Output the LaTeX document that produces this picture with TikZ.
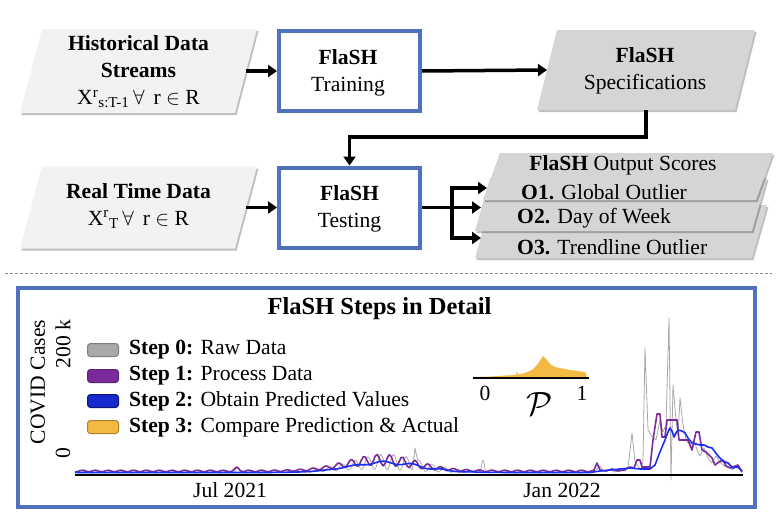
\documentclass[tikz,border=0pt]{standalone}
\usepackage{fontspec}
\usepackage{graphicx}
\setmainfont{Liberation Serif}
\usetikzlibrary{shadows,arrows.meta,calc}
\definecolor{bbox}{HTML}{4F71BE}
\definecolor{ingray}{HTML}{F2F2F2}
\definecolor{spgray}{HTML}{D5D5D5}
\definecolor{rawgray}{HTML}{A8A8A8}
\definecolor{purp}{HTML}{7B2A9C}
\definecolor{bluel}{HTML}{1A30F0}
\definecolor{gold}{HTML}{F4B942}
\newcommand{\paral}[3]{%
  \fill[#3, shad] ($(#1.south west)+(-#2/2,0)$) -- ($(#1.south east)+(-#2/2,0)$)
    -- ($(#1.north east)+(#2/2,0)$) -- ($(#1.north west)+(#2/2,0)$) -- cycle;}
\begin{document}
\begin{tikzpicture}[x=1pt,y=-1pt,
  declare function={g(\u,\c,\w)=exp(-min(abs((\u-\c)/\w),4)*min(abs((\u-\c)/\w),4));
                    wk(\u)=sin(28.125*mod(\u,12.8));},
  fnt/.style={font=\fontsize{21.6}{27}\selectfont},
  txt/.style={fnt, align=center, inner sep=0pt},
  shad/.style={drop shadow={shadow xshift=1.5pt, shadow yshift=-2pt, opacity=0.25, fill=black}},
  pbody/.style={rectangle, draw=none, inner sep=0pt, outer sep=0pt},
  procbox/.style={rectangle, draw=bbox, line width=4pt, fill=white, minimum width=141pt, minimum height=80pt, inner sep=0pt, shad},
  arr/.style={line width=3.5pt, -{Triangle[length=9pt,width=12pt]}},
  swatch/.style={rectangle, rounded corners=3pt, minimum width=31pt, minimum height=13pt, inner sep=0pt, line width=1pt},
  lgtext/.style={fnt, anchor=west, inner sep=0pt},
  lab/.style={fnt, inner sep=0pt}
]
\useasboundingbox (0,0) rectangle (778,514);

% ---------- top flow ----------
\node[pbody, minimum width=215pt, minimum height=84pt] (hist) at (138.5,71) {};
\paral{hist}{22}{ingray}
\node[txt] (histt) at (138.5,72) {\textbf{Historical Data}\\\textbf{Streams}\\X\textsuperscript{r}\textsubscript{s:T-1}\,$\forall$\, r $\in$ R};

\node[procbox] (train) at (349.5,71) {};
\node[txt] (traint) at (348,73) {\textbf{FlaSH}\\Training};

\node[pbody, minimum width=198pt, minimum height=80pt] (spec) at (646,70) {};
\paral{spec}{20}{spgray}
\node[txt] (spect) at (645,71) {\textbf{FlaSH}\\Specifications};

\node[pbody, minimum width=215pt, minimum height=82pt] (real) at (138.5,207.5) {};
\paral{real}{22}{ingray}
\node[txt] (realt) at (138.5,206) {\textbf{Real Time Data}\\X\textsuperscript{r}\textsubscript{T}\,$\forall$\, r $\in$ R};

\node[procbox] (test) at (349.5,207.5) {};
\node[txt] (testt) at (349.5,209) {\textbf{FlaSH}\\Testing};

% output score stack
\node[pbody, minimum width=277pt, minimum height=53pt] (out3) at (621,231.5) {};
\paral{out3}{15}{spgray}
\node[pbody, minimum width=277pt, minimum height=53pt] (out2) at (621,204.5) {};
\paral{out2}{15}{spgray}
\node[pbody, minimum width=273pt, minimum height=47pt] (out1) at (628,176.5) {};
\paral{out1}{17}{spgray}
\node[txt] (outt) at (623,165) {\textbf{FlaSH} Output Scores};
\node[txt, anchor=west] (o1t) at (521,192.5) {\textbf{O1.} Global Outlier};
\node[txt, anchor=west] (o2t) at (517,218) {\textbf{O2.} Day of Week};
\node[txt, anchor=west] (o3t) at (517,247) {\textbf{O3.} Trendline Outlier};

% connectors
\draw[arr] (hist.east) -- (train.west);
\draw[arr] (train.east) -- (spec.west);
\draw[arr] (real.east) -- (test.west);
\draw[arr] (spec.south) -- ++(0,27) -| (test.north);
\coordinate (br) at (452,207.5);
\coordinate (o1in) at (487,188);
\coordinate (o2in) at (481,207.5);
\coordinate (o3in) at (481,238);
\draw[arr] (test.east) -- (o2in);
\draw[arr] (br) |- (o1in);
\draw[arr] (br) |- (o3in);

% separator
\coordinate (sepL) at (5,273);
\coordinate (sepR) at (772,273);
\draw[rawgray!80!black, line width=0.8pt, dash pattern=on 3pt off 2pt] (sepL) -- (sepR);

% ---------- detail panel ----------
\node[rectangle, draw=bbox, line width=4pt, fill=white, minimum width=737pt, minimum height=219pt, shad] (detail) at (386.5,397.5) {};
\node[font=\fontsize{24.5}{28}\selectfont\bfseries, inner sep=0pt] (title) at (379.5,309) {FlaSH Steps in Detail};

\node[lab, rotate=90] (ylab) at (38,382) {COVID Cases};
\node[lab, rotate=90] (y200) at (63,344) {200 k};
\node[lab, rotate=90] (y0) at (63,453) {0};

% legend
\node[swatch, fill=rawgray, draw=rawgray!75!black] (sw0) at (103,350) {};
\node[swatch, fill=purp, draw=purp!75!black] (sw1) at (103,376) {};
\node[swatch, fill=bluel!85!black, draw=bluel!50!black] (sw2) at (103,401) {};
\node[swatch, fill=gold, draw=gold!70!black] (sw3) at (103,427) {};
\node[lgtext] (lg0) at (129,350) {\textbf{Step 0:} Raw Data};
\node[lgtext] (lg1) at (129,376) {\textbf{Step 1:} Process Data};
\node[lgtext] (lg2) at (129,401) {\textbf{Step 2:} Obtain Predicted Values};
\node[lgtext] (lg3) at (129,427) {\textbf{Step 3:} Compare Prediction \& Actual};

% inset distribution
\fill[gold] (473,378) -- (473,377) -- (490,376.5) -- (505,375.5) -- (516,375) -- (517,371) -- (518,374.5)
  -- (525,373) -- (532,370) -- (537,365) -- (541,359) -- (543,356) -- (546,359) -- (550,364)
  -- (555,367) -- (560,368) -- (565,369) -- (570,370) -- (578,371) -- (584,372) -- (586,373) -- (587,378) -- cycle;
\coordinate (inL) at (473,378);
\coordinate (inR) at (589,378);
\draw[line width=2pt] (inL) -- (inR);
\node[lab] (p0) at (485,393) {0};
\node[lab] (p1) at (582,393) {1};
\node[inner sep=0pt] (pp) at (540,404) {\scalebox{1.35}{\fontsize{24}{26}\selectfont$\mathcal{P}$}};

% time series
\draw[rawgray, line width=0.8pt, line join=round]
  plot[domain=75:590, samples=360] (\x, {472 - 10*g(\x,385,50) + (1+7*g(\x,390,45))*wk(\x)
      - 20*g(\x,415,1.6) - 12*g(\x,483,1.6) - 6*g(\x,237,1.6)})
  -- (596,470) -- (600,466) -- (603,471) -- (610,470) -- (615,472) -- (620,469) -- (625,471) -- (628,468)
  -- (632,433) -- (635,462) -- (638,466) -- (641,470) -- (643,460) -- (645,348) -- (648,430) -- (652,436)
  -- (656,440) -- (660,420) -- (663,432) -- (666,425) -- (669,318) -- (671,480) -- (673,385) -- (676,420)
  -- (678,435) -- (680,398) -- (683,425) -- (686,440) -- (690,445) -- (694,440) -- (697,450) -- (700,456)
  -- (704,448) -- (708,458) -- (712,463) -- (716,456) -- (720,462) -- (724,466) -- (728,462) -- (732,470)
  -- (736,466) -- (740,470) -- (742,472);
\draw[purp, line width=1.6pt, line join=round]
  plot[domain=75:590, samples=260] (\x, {471 - 11*g(\x,380,50) + (0.8+5*g(\x,385,45))*wk(\x+4) - 3*g(\x,237,3)})
  -- (594,470) -- (597,463) -- (600,470) -- (606,471) -- (612,469) -- (618,471) -- (624,470) -- (630,467)
  -- (634,468) -- (637,460) -- (640,460) -- (642,467) -- (650,467) -- (653,440) -- (657,414) -- (660,414)
  -- (662,437) -- (665,437) -- (667,420) -- (677,420) -- (679,440) -- (688,440) -- (692,450) -- (696,432)
  -- (699,432) -- (702,450) -- (706,452) -- (709,455) -- (712,458) -- (715,465) -- (719,462) -- (723,460)
  -- (726,466) -- (730,468) -- (735,466) -- (738,465) -- (742,472);
\draw[bluel, line width=1.6pt, line join=round]
  plot[domain=75:590, samples=200] (\x, {472.5 - 10*g(\x,385,50) + 1.5*g(\x,400,50)*sin(12*\x)})
  -- (600,471) -- (610,470) -- (620,469) -- (630,468) -- (640,469) -- (650,469) -- (655,465) -- (658,457)
  -- (662,447) -- (665,440) -- (668,432) -- (670,428) -- (672,431) -- (674,437) -- (676,433) -- (678,430)
  -- (682,431) -- (685,433) -- (688,438) -- (692,443) -- (696,444) -- (700,445) -- (704,445) -- (708,447)
  -- (712,448) -- (715,452) -- (719,457) -- (723,461) -- (728,463) -- (733,468) -- (736,467) -- (738,467)
  -- (742,471);

\coordinate (axL) at (75,475);
\coordinate (axR) at (743,475);
\draw[line width=2pt] (axL) -- (axR);
\node[lab] (jul) at (230,490) {Jul 2021};
\node[lab] (jan) at (562,490) {Jan 2022};
\end{tikzpicture}
\end{document}
